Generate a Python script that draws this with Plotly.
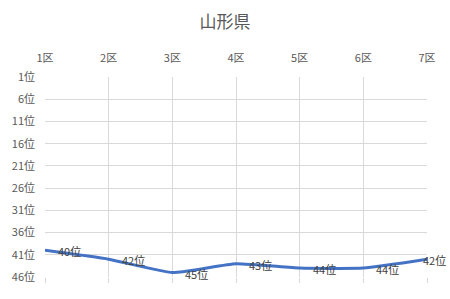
import plotly.graph_objects as go

districts = ["1区", "2区", "3区", "4区", "5区", "6区", "7区"]
ranks = [40, 42, 45, 43, 44, 44, 42]
rank_ticks = [1, 6, 11, 16, 21, 26, 31, 36, 41, 46]
rank_tick_labels = [f"{r}位" for r in rank_ticks]
title_text = "山形県"

FONT = "Noto Sans CJK JP"
GRID = "#d9d9d9"

xs = list(range(len(districts)))

fig = go.Figure()
fig.add_trace(go.Scatter(
    x=xs, y=ranks,
    mode="lines",
    line=dict(color="#4472C4", width=3, shape="spline", smoothing=0.45),
    cliponaxis=False, showlegend=False, hoverinfo="skip",
))
# invisible trace so bottom tick marks axis is drawn
fig.add_trace(go.Scatter(
    x=xs, y=ranks, xaxis="x2",
    mode="lines", line=dict(width=0, color="rgba(0,0,0,0)"),
    showlegend=False, hoverinfo="skip",
))

for i, (x, r) in enumerate(zip(xs, ranks)):
    last = i == len(ranks) - 1
    fig.add_annotation(
        x=x, y=r, text=f"{r}位", showarrow=False,
        xanchor="center" if last else "left", yanchor="middle",
        xshift=7 if last else 11, yshift=-1,
        font=dict(family=FONT, size=11, color="#404040"),
    )

fig.update_layout(
    width=450, height=299,
    margin=dict(l=42, r=23, t=77, b=22),
    paper_bgcolor="white", plot_bgcolor="white",
    title=dict(text=title_text, x=0.5, xanchor="center", y=0.925, yanchor="middle",
               font=dict(family=FONT, size=17, color="#595959")),
    xaxis=dict(
        side="top", range=[0, len(districts) - 1],
        tickvals=xs, ticktext=districts,
        showgrid=True, gridcolor=GRID, gridwidth=1,
        zeroline=False, showline=False, ticks="", ticklabelstandoff=12,
        tickfont=dict(family=FONT, size=11, color="#595959"),
    ),
    xaxis2=dict(
        overlaying="x", side="bottom", range=[0, len(districts) - 1],
        tickvals=xs, showticklabels=False,
        ticks="outside", ticklen=5, tickcolor=GRID, tickwidth=1,
        showgrid=False, zeroline=False, showline=False,
    ),
    yaxis=dict(
        range=[46, 1], tickvals=rank_ticks, ticktext=rank_tick_labels,
        showgrid=True, gridcolor=GRID, gridwidth=1,
        zeroline=False, showline=False, ticks="", ticklabelstandoff=9,
        tickfont=dict(family=FONT, size=11, color="#595959"),
    ),
)

fig.write_html("out.html")
